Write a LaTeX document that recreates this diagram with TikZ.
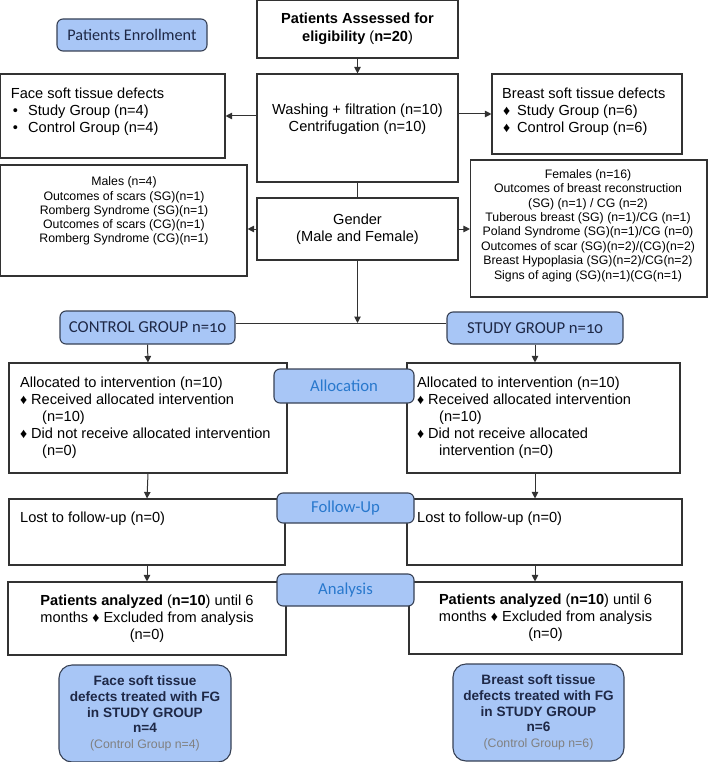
\documentclass[tikz,border=0pt]{standalone}
\usepackage{fontspec}
\setmainfont{Liberation Sans}
\newfontfamily\calib[Numbers=OldStyle]{Carlito}
\usetikzlibrary{arrows.meta,calc}
\definecolor{lineg}{RGB}{50,50,50}
\definecolor{lblfill}{RGB}{168,198,246}
\definecolor{lbldraw}{RGB}{55,65,85}
\definecolor{phasetxt}{RGB}{40,120,205}
\definecolor{navy}{RGB}{30,40,70}
\definecolor{grtxt}{RGB}{128,128,128}
\newcommand\dmd{\raisebox{0.2pt}{\fontsize{14}{11}\selectfont ♦}}
\begin{document}
\begin{tikzpicture}[x=1pt,y=-1pt,
  box/.style={draw=lineg, line width=1.1pt, fill=white, inner sep=0pt},
  lbl/.style={draw=lbldraw, line width=1.1pt, fill=lblfill, rounded corners=6pt, inner sep=0pt, font=\calib\fontsize{16.7}{18}\selectfont},
  fg/.style={draw=lbldraw, line width=1.1pt, fill=lblfill, rounded corners=13pt, inner sep=0pt, align=center, text=navy, font=\bfseries\fontsize{13.6}{15.8}\selectfont},
  main/.style={font=\fontsize{14.6}{17}\selectfont, inner sep=0pt},
  small/.style={font=\fontsize{12.3}{14.1}\selectfont, inner sep=0pt, align=center},
  arr/.style={draw=lineg, line width=1pt, -{Triangle[length=6.5pt,width=6.5pt]}},
  ln/.style={draw=lineg, line width=1pt}]
\useasboundingbox (0,0) rectangle (708,762);

% boxes
\node[lbl, text=navy, minimum width=150, minimum height=32, font=\calib\fontsize{16.2}{18}\selectfont] (enroll) at (132,35) {Patients Enrollment};
\node[box, main, minimum width=201, minimum height=57.5, align=center, font=\bfseries\fontsize{14.6}{18}\selectfont] (assess) at (357.5,29.25) {Patients Assessed for\\eligibility \mdseries(\bfseries n=20\mdseries)};
\node[box, minimum width=201, minimum height=108] (wash) at (357.5,128) {};
\node[main, align=center] (washt) at (357.5,119) {Washing + filtration (n=10)\\Centrifugation (n=10)};
\node[box, minimum width=224.4, minimum height=84] (face) at (112.8,116) {};
\node[main, align=left, anchor=north west] (facet) at (10.7,87.5) {Face soft tissue defects\\\makebox[17.3pt][l]{\hspace{2pt}\textbullet}Study Group (n=4)\\\makebox[17.3pt][l]{\hspace{2pt}\textbullet}Control Group (n=4)};
\node[box, minimum width=190, minimum height=80] (breast) at (587,114) {};
\node[main, align=left, anchor=north west] (breastt) at (502,87.5) {Breast soft tissue defects\\\makebox[15pt][l]{\hspace{1pt}\dmd}Study Group (n=6)\\\makebox[15pt][l]{\hspace{1pt}\dmd}Control Group (n=6)};
\node[box, minimum width=246.4, minimum height=111] (males) at (123.8,220.5) {};
\node[small] (malest) at (124,211) {Males (n=4)\\Outcomes of scars (SG)(n=1)\\Romberg Syndrome (SG)(n=1)\\Outcomes of scars (CG)(n=1)\\Romberg Syndrome (CG)(n=1)};
\node[box, main, minimum width=201, minimum height=62, align=center] (gender) at (357.5,229) {Gender\\(Male and Female)};
\node[box, minimum width=236.5, minimum height=137] (females) at (588.75,228.5) {};
\node[small, font=\fontsize{12.3}{14.4}\selectfont] (femalest) at (588,225.5) {Females (n=16)\\Outcomes of breast reconstruction\\(SG) (n=1) / CG (n=2)\\Tuberous breast (SG) (n=1)/CG (n=1)\\Poland Syndrome (SG)(n=1)/CG (n=0)\\Outcomes of scar (SG)(n=2)/(CG)(n=2)\\Breast Hypoplasia (SG)(n=2)/CG(n=2)\\Signs of aging (SG)(n=1)(CG(n=1)};

\node[lbl, text=navy, minimum width=175, minimum height=33] (ctrl) at (147.5,327.5) {CONTROL GROUP n=10};
\node[lbl, text=navy, minimum width=176, minimum height=32] (study) at (535,328) {STUDY GROUP n=10};

\node[box, minimum width=278, minimum height=110] (allocL) at (148,418) {};
\node[main, align=left, anchor=north west] (allocLt) at (20,376.5) {Allocated to intervention (n=10)\\\makebox[11pt][l]{\dmd}Received allocated intervention\\\hspace*{22pt}(n=10)\\\makebox[11pt][l]{\dmd}Did not receive allocated intervention\\\hspace*{22pt}(n=0)};
\node[box, minimum width=273, minimum height=110] (allocR) at (543.5,418) {};
\node[main, align=left, anchor=north west] (allocRt) at (417,376.5) {Allocated to intervention (n=10)\\\makebox[11pt][l]{\dmd}Received allocated intervention\\\hspace*{22pt}(n=10)\\\makebox[11pt][l]{\dmd}Did not receive allocated\\\hspace*{22pt}intervention (n=0)};

\node[box, minimum width=276, minimum height=66] (lostL) at (147,532) {};
\node[main, anchor=north west] (lostLt) at (20,511.5) {Lost to follow-up (n=0)};
\node[box, minimum width=275, minimum height=66] (lostR) at (544.5,532) {};
\node[main, anchor=north west] (lostRt) at (417,511.5) {Lost to follow-up (n=0)};

\node[box, main, minimum width=278, minimum height=73, align=center] (anaL) at (147,618.5) {\textbf{Patients analyzed} (\textbf{n=10}) until 6\\months \dmd\ Excluded from analysis\\(n=0)};
\node[box, main, minimum width=273, minimum height=72, align=center] (anaR) at (545.5,618) {\textbf{Patients analyzed} (\textbf{n=10}) until 6\\months \dmd\ Excluded from analysis\\(n=0)};

\node[fg, minimum width=172, minimum height=97] (fgL) at (145,713.5) {Face soft tissue\\defects treated with FG\\in STUDY GROUP\\n=4\\{\mdseries\color{grtxt}\fontsize{12.3}{15.8}\selectfont(Control Group n=4)}};
\node[fg, minimum width=171, minimum height=97] (fgR) at (538.5,712.5) {Breast soft tissue\\defects treated with FG\\in STUDY GROUP\\n=6\\{\mdseries\color{grtxt}\fontsize{12.3}{15.8}\selectfont(Control Group n=6)}};

% connectors
\draw[arr] (assess.south) -- (wash.north);
\draw[arr] (face.east -| wash.west) -- (face.east);
\draw[arr] (breast.west -| wash.east) -- (breast.west);
\draw[ln] (wash.south) -- (gender.north);
\draw[arr] (gender.west) -- (gender.west -| males.east);
\draw[arr] (gender.east) -- (gender.east -| females.west);
\coordinate (j) at (357.5,323);
\draw[ln] (ctrl.east |- j) -- (study.west |- j);
\draw[arr] (gender.south) -- (j);
\draw[arr] (ctrl.south) -- (allocL.north);
\draw[arr] (study.south) -- (study.south |- allocR.north);
\draw[arr] (allocL.south) -- (lostL.north);
\draw[arr] (study.south |- allocR.south) -- (study.south |- lostR.north);
\draw[arr] (lostL.south) -- (anaL.north);
\draw[arr] (study.south |- lostR.south) -- (study.south |- anaR.north);

% phase labels on top
\node[lbl, text=phasetxt, minimum width=140, minimum height=34] (allocLab) at (344,386) {Allocation};
\node[lbl, text=phasetxt, minimum width=137, minimum height=30] (follow) at (345.5,508) {Follow-Up};
\node[lbl, text=phasetxt, minimum width=137, minimum height=32] (analysis) at (345.5,590) {Analysis};
\end{tikzpicture}
\end{document}
